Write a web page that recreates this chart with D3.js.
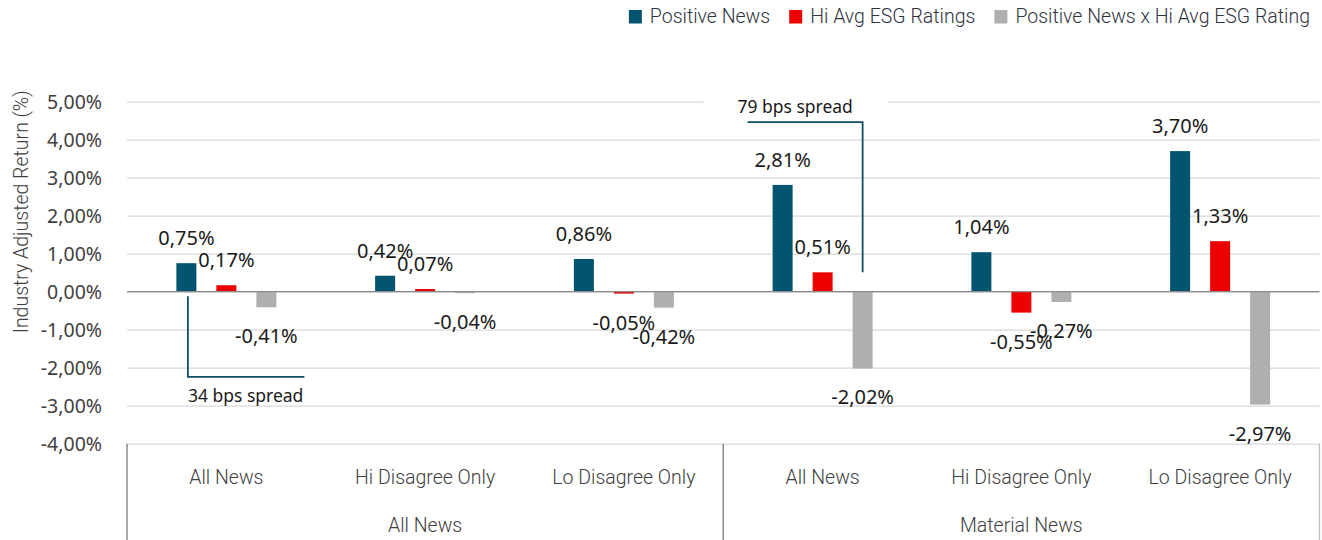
<!DOCTYPE html>
<html>
<head>
<meta charset="utf-8">
<script src="https://cdn.jsdelivr.net/npm/d3@7.9.0/dist/d3.min.js"></script>
<style>
  body { margin: 0; background: #fff; }
  svg { display: block; }
  .label { font-family: "Noto Sans", sans-serif; font-size: 20px; fill: #1a1a1a; }
  .tick text { font-family: "Noto Sans", sans-serif; font-size: 19.5px; fill: #404040; }
  .cat { font-family: Roboto, sans-serif; font-weight: 300; font-size: 19.5px; fill: #404040; }
  .legend-text { font-family: Roboto, sans-serif; font-weight: 300; font-size: 19.5px; fill: #2f3340; }
  .note { font-family: "Noto Sans", sans-serif; font-size: 17.5px; fill: #1a1a1a; }
</style>
</head>
<body>
<svg id="chart" width="1322" height="540"></svg>
<script>
// Data
const groups = ["All News", "Material News"];
const subCategories = ["All News", "Hi Disagree Only", "Lo Disagree Only"];
const seriesNames = ["Positive News", "Hi Avg ESG Ratings", "Positive News x Hi Avg ESG Rating"];
const positiveNews = [0.75, 0.42, 0.86, 2.81, 1.04, 3.70];
const hiAvgEsg = [0.17, 0.07, -0.05, 0.51, -0.55, 1.33];
const positiveXHiEsg = [-0.41, -0.04, -0.42, -2.02, -0.27, -2.97];
const yTicks = [-4, -3, -2, -1, 0, 1, 2, 3, 4, 5];
const colors = ["#02546f", "#ec0000", "#afafaf"];

const seriesValues = [positiveNews, hiAvgEsg, positiveXHiEsg];
const cats = d3.range(groups.length * subCategories.length);

const svg = d3.select('#chart');
const plotLeft = 127, plotRight = 1319.5, plotTop = 101.7, plotBottom = 443.7, axisBottom = 540;

const x0 = d3.scaleBand().domain(cats).range([plotLeft, plotRight]);
const x1 = d3.scaleBand().domain(d3.range(seriesNames.length))
  .range([-50, 50]).paddingInner(0.5);
const xg = d3.scaleBand().domain(d3.range(groups.length)).range([plotLeft, plotRight]);
const y = d3.scaleLinear().domain([-4, 5]).range([plotBottom, plotTop]);

// comma decimals, plain hyphen for negatives
const fmt = v => d3.format('.2f')(v).replace('.', ',').replace('\u2212', '-') + '%';

// y axis with gridlines
const yAxis = svg.append('g')
  .attr('transform', `translate(${plotLeft},0)`)
  .call(d3.axisLeft(y).tickValues(yTicks).tickFormat(fmt)
    .tickSize(-(plotRight - plotLeft)).tickPadding(25));
yAxis.select('.domain').remove();
yAxis.selectAll('.tick line').attr('stroke', '#d9d9d9').attr('stroke-width', 1.3);
yAxis.selectAll('.tick text').attr('dy', '0.36em');

// y title
svg.append('text')
  .attr('class', 'cat')
  .attr('font-size', 18.5)
  .attr('transform', `translate(28,${(plotTop + 320) / 2 + 1}) rotate(-90)`)
  .attr('text-anchor', 'middle')
  .text('Industry Adjusted Return (%)');

// bars
seriesValues.forEach((vals, s) => {
  svg.append('g').selectAll('rect')
    .data(vals)
    .join('rect')
    .attr('x', (d, i) => x0(i) + x0.bandwidth() / 2 + x1(s))
    .attr('width', x1.bandwidth())
    .attr('y', d => y(Math.max(0, d)))
    .attr('height', d => Math.abs(y(d) - y(0)))
    .attr('fill', colors[s]);
});

// zero line
svg.append('line')
  .attr('x1', plotLeft).attr('x2', plotRight)
  .attr('y1', y(0)).attr('y2', y(0))
  .attr('stroke', '#8c8c8c').attr('stroke-width', 1.3);

// value labels
seriesValues.forEach((vals, s) => {
  svg.append('g').selectAll('text')
    .data(vals)
    .join('text')
    .attr('class', 'label')
    .attr('text-anchor', 'middle')
    .attr('x', (d, i) => x0(i) + x0.bandwidth() / 2 + x1(s) + x1.bandwidth() / 2)
    .attr('y', d => d >= 0 ? y(d) - 18 : y(d) + 36)
    .text(d => fmt(d));
});

// category axis (two levels)
const axisG = svg.append('g');
groups.forEach((g, gi) => {
  axisG.append('line')
    .attr('x1', xg(gi)).attr('x2', xg(gi))
    .attr('y1', plotBottom).attr('y2', axisBottom)
    .attr('stroke', '#8c8c8c').attr('stroke-width', 1.5);
  axisG.append('text')
    .attr('class', 'cat')
    .attr('text-anchor', 'middle')
    .attr('x', xg(gi) + xg.bandwidth() / 2)
    .attr('y', 532)
    .text(g);
});
axisG.append('line')
  .attr('x1', plotRight).attr('x2', plotRight)
  .attr('y1', plotBottom).attr('y2', axisBottom)
  .attr('stroke', '#bfbfbf').attr('stroke-width', 1.3);
cats.forEach(i => {
  axisG.append('text')
    .attr('class', 'cat')
    .attr('text-anchor', 'middle')
    .attr('x', x0(i) + x0.bandwidth() / 2)
    .attr('y', 484)
    .text(subCategories[i % subCategories.length]);
});

// spread annotations
const teal = '#0f4f66';
const cx = (i, s) => x0(i) + x0.bandwidth() / 2 + x1(s) + x1.bandwidth() / 2;

// 34 bps bracket
const bx = cx(0, 0) + 1.5;
svg.append('path')
  .attr('d', `M${bx},${y(-0.12)}V${y(-2.24)}H${x0(0) + x0.bandwidth() / 2 + 78}`)
  .attr('fill', 'none').attr('stroke', teal).attr('stroke-width', 1.8);
svg.append('text')
  .attr('class', 'note')
  .attr('x', bx)
  .attr('y', y(-2.9))
  .text('34 bps spread');

// 79 bps bracket
const gx = cx(3, 2);
const c3 = x0(3) + x0.bandwidth() / 2;
svg.append('rect')
  .attr('x', c3 - 119).attr('y', y(5.3))
  .attr('width', 184).attr('height', 22)
  .attr('fill', '#fff');
svg.append('path')
  .attr('d', `M${c3 - 75},${y(4.46)}H${gx}V${y(0.51)}`)
  .attr('fill', 'none').attr('stroke', teal).attr('stroke-width', 1.8);
svg.append('text')
  .attr('class', 'note')
  .attr('text-anchor', 'middle')
  .attr('x', c3 - 27.5)
  .attr('y', y(4.7))
  .text('79 bps spread');

// legend, right aligned
const legend = svg.append('g');
const items = seriesNames.map((name, i) => {
  const t = legend.append('text').attr('class', 'legend-text').attr('y', 23).text(name);
  return { t, w: t.node().getComputedTextLength(), i };
});
const totalW = d3.sum(items, d => 13 + 8 + d.w) + 19 * (items.length - 1);
let lx = 1310 - totalW;
items.forEach(d => {
  legend.append('rect')
    .attr('x', lx).attr('y', 10)
    .attr('width', 13).attr('height', 13.5)
    .attr('fill', colors[d.i]);
  d.t.attr('x', lx + 21);
  lx += 21 + d.w + 19;
});
</script>
</body>
</html>
